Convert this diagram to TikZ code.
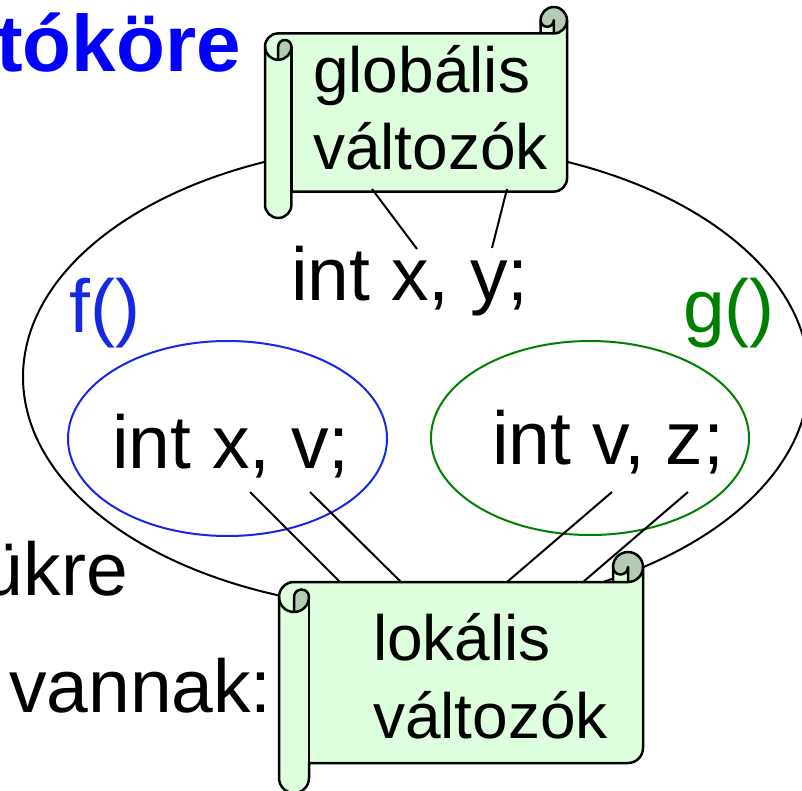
\documentclass[tikz,border=0pt]{standalone}
\usepackage{fontspec}
\setmainfont{Liberation Sans}
\usetikzlibrary{calc}

\definecolor{paper}{RGB}{221,255,221}
\definecolor{paperback}{RGB}{180,204,180}
\definecolor{funcblue}{RGB}{20,40,230}
\definecolor{funcgreen}{RGB}{0,128,0}

% horizontal scroll: left, top, right, bottom, roll width
\newcommand{\hscroll}[5]{
  \pgfmathsetmacro{\rh}{#5/2}
  \pgfmathsetmacro{\rq}{#5/4}
  \pgfmathsetmacro{\ya}{#2+#5+\rh}
  \pgfmathsetmacro{\yb}{#2+2*#5}
  \pgfmathsetmacro{\yc}{#4-#5}
  \pgfmathsetmacro{\yd}{#4-\rh}
  \pgfmathsetmacro{\ye}{\yc-\rh}
  \pgfmathsetmacro{\yt}{#2+#5}
  \pgfmathsetmacro{\yh}{#2+\rh}
  \pgfmathsetmacro{\xa}{#3-#5}
  \pgfmathsetmacro{\xb}{#3-\rh}
  \pgfmathsetmacro{\xc}{#1+\rh}
  \pgfmathsetmacro{\xd}{#1+#5}
  \fill[paper] (#3,\yh) arc[start angle=0,delta angle=90,radius=\rh] -- (\xb,\yh)
    arc[start angle=0,delta angle=180,radius=\rq] -- (\xa,\yt) -- (\xc,\yt)
    arc[start angle=270,delta angle=-90,radius=\rh] -- (#1,\yd)
    arc[start angle=180,delta angle=-180,radius=\rh] -- (\xd,\yc) -- (\xb,\yc)
    arc[start angle=90,delta angle=-90,radius=\rh] -- cycle;
  \fill[paperback] (\xc,\yb) arc[start angle=90,delta angle=-90,radius=\rh]
    arc[start angle=0,delta angle=-180,radius=\rq] -- cycle;
  \fill[paperback] (\xb,\yt) arc[start angle=90,delta angle=-270,radius=\rh]
    arc[start angle=180,delta angle=-180,radius=\rq] -- cycle;
  \draw[scrollline] (#1,\ya) arc[start angle=180,delta angle=90,radius=\rh] -- (\xa,\yt) -- (\xa,\yh)
    arc[start angle=180,delta angle=180,radius=\rh] -- (#3,\ye)
    arc[start angle=0,delta angle=90,radius=\rh] -- (\xd,\yc) -- (\xd,\yd)
    arc[start angle=0,delta angle=180,radius=\rh] -- cycle;
  \draw[scrollline] (\xa,\yt) -- (\xb,\yt) arc[start angle=90,delta angle=-90,radius=\rh];
  \draw[scrollline] (\xb,\yt) -- (\xb,\yh) arc[start angle=0,delta angle=180,radius=\rq];
  \draw[scrollline] (\xc,\yb) -- (\xc,\ya) arc[start angle=180,delta angle=180,radius=\rq]
    arc[start angle=0,delta angle=180,radius=\rh];
  \draw[scrollline] (\xd,\ya) -- (\xd,\yc);
}

\begin{document}
\begin{tikzpicture}[x=1pt,y=-1pt,
  code/.style={font=\fontsize{75}{90}\selectfont,inner sep=0pt},
  scrolltext/.style={font=\fontsize{64}{77.5}\selectfont,inner sep=0pt,align=left},
  scrollline/.style={line width=2.5pt,line join=round},
  link/.style={line width=2pt}]

\useasboundingbox (0,0) rectangle (802,791);
\clip (0,0) rectangle (802,791);

% slide text behind the picture
\node[anchor=base east,inner sep=0pt,font=\fontsize{80}{96}\selectfont\bfseries,text=blue] (title) at (241,72) {tóköre};
\node[code,anchor=base east] (rest1) at (128,595) {ükre};
\node[code,anchor=base east] (rest2) at (272,712) {vannak:};

% scopes
\draw[line width=2pt] (416,377) ellipse [x radius=393,y radius=233];
\draw[funcblue,line width=2pt] (227.5,438.5) ellipse [x radius=159.5,y radius=97.5];
\draw[funcgreen,line width=2pt] (590,438) ellipse [x radius=159,y radius=97];

\node[code,anchor=base west] (globvars) at (291,301) {int x, y;};
\node[code,anchor=base west,text=funcblue] (fname) at (69,332) {f()};
\node[code,anchor=base west,text=funcgreen] (gname) at (683,332) {g()};
\node[code,anchor=base west] (fvars) at (112,468) {int x, v;};
\node[code,anchor=base west] (gvars) at (492,464) {int v, z;};

% local links
\coordinate (fx) at (250,492);
\coordinate (fv) at (310,492);
\coordinate (gv) at (612,492);
\coordinate (gz) at (688,492);
\coordinate (lok1) at (340,582);
\coordinate (lok2) at (401,582);
\coordinate (lok3) at (507,582);
\coordinate (lok4) at (583,582);
\draw[link] (fx) -- (lok1);
\draw[link] (fv) -- (lok2);
\draw[link] (gv) -- (lok3);
\draw[link] (gz) -- (lok4);

\hscroll{265}{7}{567}{218}{26.4}
\hscroll{279}{552}{643}{793}{30}

\node[scrolltext,anchor=base west] (glob) at (313,170) {globális\\változók};
\node[scrolltext,anchor=base west] (lok) at (373,738) {lokális\\változók};

% global links
\coordinate (glob1) at (372,189);
\coordinate (glob2) at (507,189);
\coordinate (gx) at (417,249);
\coordinate (gy) at (492,248);
\draw[link] (glob1) -- (gx);
\draw[link] (glob2) -- (gy);

\end{tikzpicture}
\end{document}
